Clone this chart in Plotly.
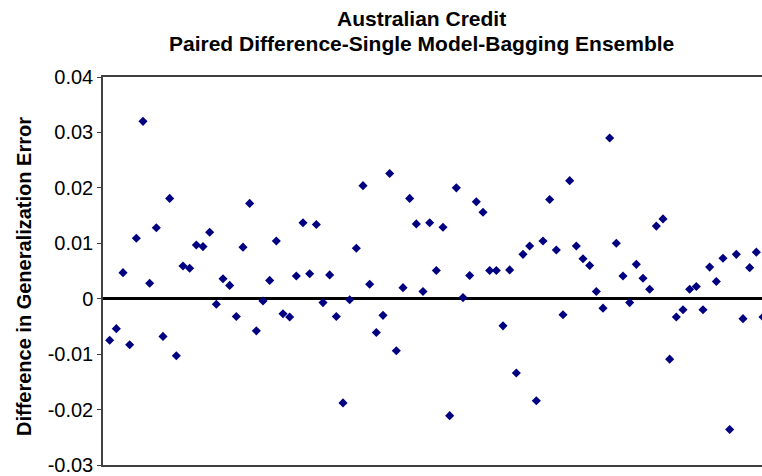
import plotly.graph_objects as go

# Paired differences in generalization error (single model minus bagging ensemble), one per run
run_index = list(range(1, 100))
paired_difference = [
    -0.0075, -0.0054, 0.0047, -0.0083, 0.0109, 0.0320, 0.0028, 0.0128, -0.0068, 0.0181,
    -0.0103, 0.0059, 0.0055, 0.0097, 0.0094, 0.0120, -0.0010, 0.0036, 0.0024, -0.0032,
    0.0093, 0.0172, -0.0058, -0.0004, 0.0033, 0.0104, -0.0027, -0.0033, 0.0041, 0.0137,
    0.0045, 0.0134, -0.0007, 0.0043, -0.0032, -0.0188, -0.0002, 0.0091, 0.0204, 0.0026,
    -0.0061, -0.0030, 0.0226, -0.0094, 0.0020, 0.0181, 0.0135, 0.0013, 0.0137, 0.0051,
    0.0129, -0.0211, 0.0200, 0.0002, 0.0042, 0.0175, 0.0156, 0.0051, 0.0051, -0.0049,
    0.0052, -0.0134, 0.0080, 0.0095, -0.0184, 0.0104, 0.0179, 0.0088, -0.0029, 0.0213,
    0.0095, 0.0072, 0.0060, 0.0013, -0.0017, 0.0290, 0.0100, 0.0041, -0.0007, 0.0062,
    0.0037, 0.0017, 0.0131, 0.0144, -0.0109, -0.0033, -0.0020, 0.0017, 0.0022, -0.0020,
    0.0057, 0.0031, 0.0073, -0.0236, 0.0080, -0.0036, 0.0056, 0.0084, -0.0033,
]

y_tick_values = [0.04, 0.03, 0.02, 0.01, 0.0, -0.01, -0.02, -0.03]
y_tick_labels = ["0.04", "0.03", "0.02", "0.01", "0", "-0.01", "-0.02", "-0.03"]

title_lines = ["Australian Credit", "Paired Difference-Single Model-Bagging Ensemble"]
y_title = "Difference in Generalization Error"

FONT = "Liberation Sans, Arial, sans-serif"
AXIS_GREY = "#404040"

fig = go.Figure()
fig.add_trace(go.Scatter(
    x=run_index,
    y=paired_difference,
    mode="markers",
    marker=dict(symbol="diamond", size=7, color="#000080", line=dict(width=0)),
    cliponaxis=True,
    showlegend=False,
))

fig.update_layout(
    width=762,
    height=476,
    margin=dict(l=103, r=0, t=77, b=8),
    paper_bgcolor="white",
    plot_bgcolor="white",
    font=dict(family=FONT, color="black"),
    showlegend=False,
)

fig.update_xaxes(
    range=[0, 98.85],
    showticklabels=False,
    ticks="",
    showgrid=False,
    zeroline=False,
    showline=True,
    mirror=True,
    linecolor=AXIS_GREY,
    linewidth=1.5,
)

fig.update_yaxes(
    range=[-0.03, 0.04],
    tickmode="array",
    tickvals=y_tick_values,
    ticktext=y_tick_labels,
    ticks="outside",
    ticklen=4,
    tickcolor=AXIS_GREY,
    tickfont=dict(size=20, family=FONT),
    ticklabeloverflow="allow",
    showgrid=False,
    zeroline=True,
    zerolinecolor="black",
    zerolinewidth=2.5,
    showline=True,
    linecolor=AXIS_GREY,
    linewidth=1.5,
)

# Two-line bold title and rotated y-axis title
fig.add_annotation(
    text=f"<b>{title_lines[0]}</b>", xref="paper", yref="paper",
    x=0.484, y=1.1509, xanchor="center", yanchor="middle",
    showarrow=False, font=dict(size=21, family=FONT),
)
fig.add_annotation(
    text=f"<b>{title_lines[1]}</b>", xref="paper", yref="paper",
    x=0.484, y=1.087, xanchor="center", yanchor="middle",
    showarrow=False, font=dict(size=21, family=FONT),
)
fig.add_annotation(
    text=f"<b>{y_title}</b>", xref="paper", yref="paper",
    x=-0.1199, y=0.487, xanchor="center", yanchor="middle",
    textangle=-90, showarrow=False, font=dict(size=20, family=FONT),
)

fig.write_html("out.html")
